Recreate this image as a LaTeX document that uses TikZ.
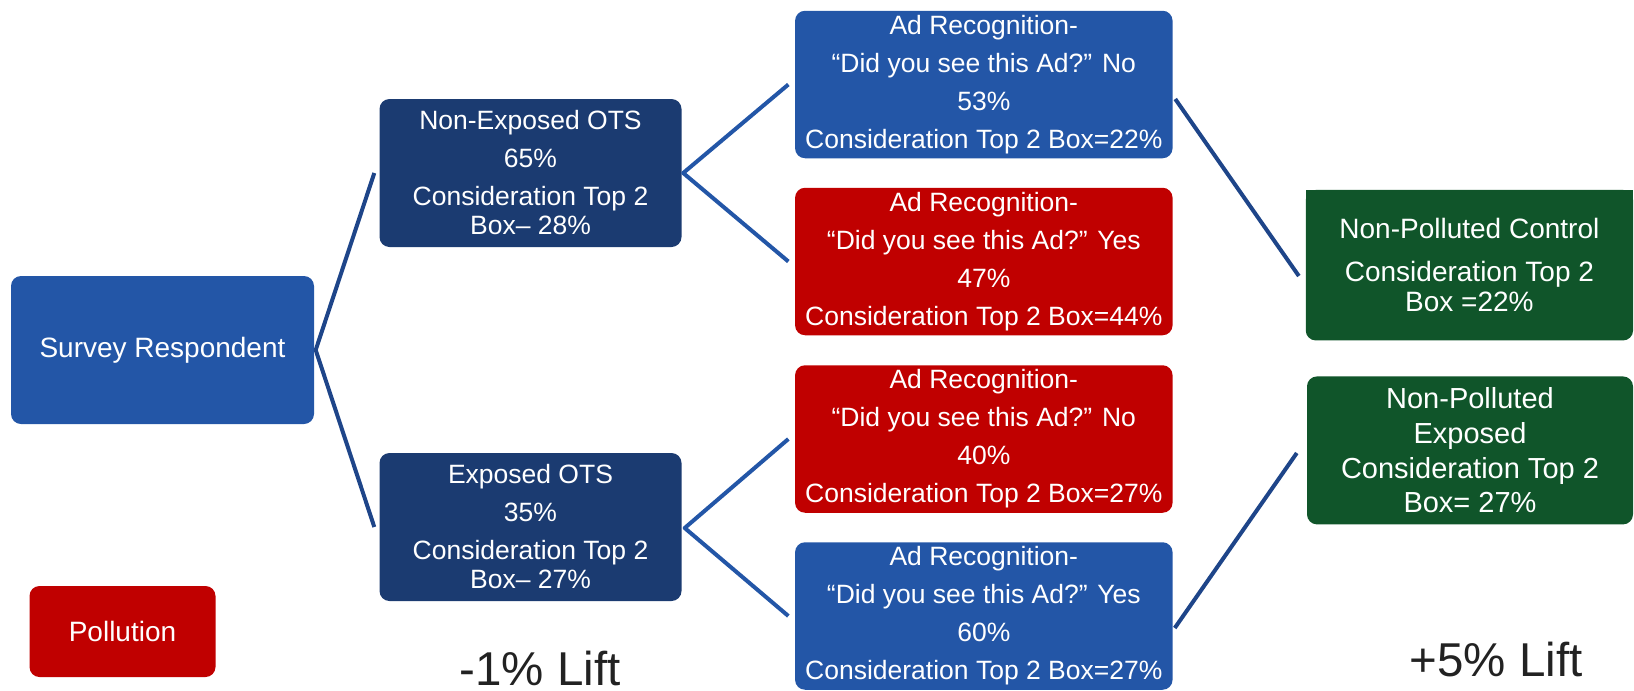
\documentclass[tikz,border=0pt]{standalone}
\usepackage{fontspec}
\setmainfont{Liberation Sans}
\definecolor{navy}{HTML}{1B3B71}
\definecolor{adblue}{HTML}{2356A7}
\definecolor{polred}{HTML}{C00000}
\definecolor{npgreen}{HTML}{10552A}
\definecolor{linknavy}{HTML}{1E4589}
\definecolor{liftgray}{HTML}{222222}
\tikzset{
  box/.style={rounded corners=10pt, text=white, align=center, inner sep=0pt},
  otsbox/.style={box, fill=navy, minimum width=302pt, minimum height=148pt, font=\fontsize{26.5}{29}\selectfont},
  adbox/.style={box, minimum width=377.5pt, minimum height=147.5pt, font=\fontsize{26.5}{38}\selectfont},
  ctrlbox/.style={box, fill=npgreen},
  link/.style={draw=linknavy, line width=4pt, line join=round},
  adlink/.style={link, draw=adblue},
  lift/.style={text=liftgray, font=\fontsize{47.5}{50}\selectfont, anchor=base},
}
\begin{document}
\begin{tikzpicture}[x=1pt, y=-1pt]
  \useasboundingbox (0,0) rectangle (1634,691);
  % left side
  \node[box, fill=adblue, minimum width=303pt, minimum height=148pt, font=\fontsize{28}{30}\selectfont] (survey) at (162.5,350) {Survey Respondent};
  \node[otsbox] (nonexp) at (530.5,173) {Non-Exposed OTS\\[9pt]65\%\\[9pt]Consideration Top 2\\Box– 28\%};
  \node[otsbox] (exp) at (530.5,527) {Exposed OTS\\[9pt]35\%\\[9pt]Consideration Top 2\\Box– 27\%};
  \node[box, fill=polred, minimum width=186pt, minimum height=91pt, font=\fontsize{28}{30}\selectfont] (pollution) at (122.5,631.5) {Pollution};
  % ad recognition
  \node[adbox, fill=adblue] (adno) at (983.8,84.5) {Ad Recognition-\\“Did you see this Ad?” No\\53\%\\Consideration Top 2 Box=22\%};
  \node[adbox, fill=polred] (adyes) at (983.8,261.5) {Ad Recognition-\\“Did you see this Ad?” Yes\\47\%\\Consideration Top 2 Box=44\%};
  \node[adbox, fill=polred] (expno) at (983.8,439) {Ad Recognition-\\“Did you see this Ad?” No\\40\%\\Consideration Top 2 Box=27\%};
  \node[adbox, fill=adblue] (expyes) at (983.8,616) {Ad Recognition-\\“Did you see this Ad?” Yes\\60\%\\Consideration Top 2 Box=27\%};
  % right side
  \fill[npgreen] (1305.7,190) rectangle (1633,230);
  \node[ctrlbox, minimum width=327.3pt, minimum height=150.5pt, font=\fontsize{28}{30.5}\selectfont] (ctrl) at (1469.4,265.2) {Non-Polluted Control\\[12pt]Consideration Top 2\\Box =22\%};
  \node[ctrlbox, minimum width=326pt, minimum height=148pt, font=\fontsize{29}{34.7}\selectfont] (npexp) at (1470,450.4) {Non-Polluted\\Exposed\\Consideration Top 2\\Box= 27\%};
  % connectors
  \draw[link] ([xshift=-5pt]nonexp.west) -- ([xshift=1.5pt]survey.east) -- ([xshift=-5pt]exp.west);
  \draw[adlink] ([xshift=-6.5pt]adno.west) -- ([xshift=1.5pt]nonexp.east) -- ([xshift=-6.5pt]adyes.west);
  \draw[adlink] ([xshift=-6.5pt]expno.west) -- ([xshift=3pt,yshift=-1pt]exp.east) -- ([xshift=-6.5pt]expyes.west);
  \draw[link] ([xshift=2.5pt,yshift=-14.5pt]adno.east) -- ([xshift=-6.7pt,yshift=-10.8pt]ctrl.west);
  \draw[link] ([xshift=2pt,yshift=-12pt]expyes.east) -- ([xshift=-10pt,yshift=-2.6pt]npexp.west);
  % lift figures
  \node[lift] (liftleft) at (540,685) {-1\% Lift};
  \node[lift] (liftright) at (1496,676) {+5\% Lift};
\end{tikzpicture}
\end{document}
